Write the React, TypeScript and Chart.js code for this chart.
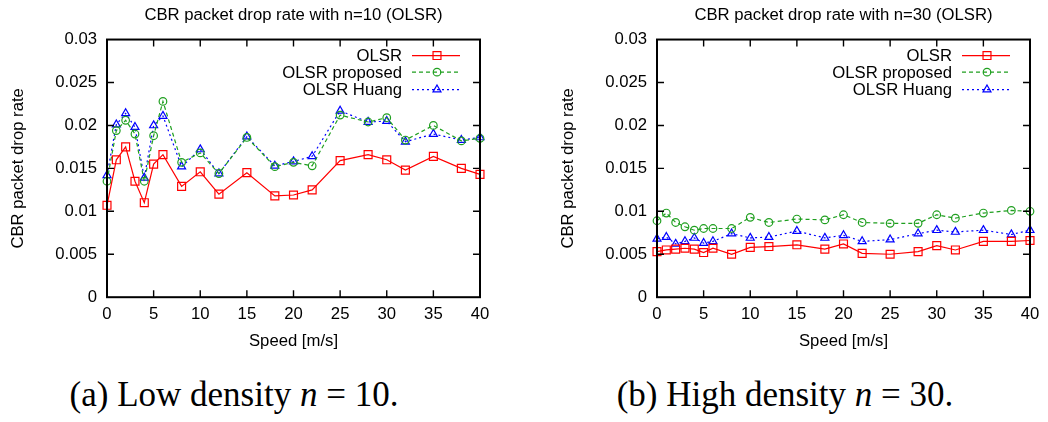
import React, { useEffect, useRef } from "react";
import { Chart, registerables } from "chart.js";

Chart.register(...registerables);

// ---------- data ----------
const speeds = [0, 1, 2, 3, 4, 5, 6, 8, 10, 12, 15, 18, 20, 22, 25, 28, 30, 32, 35, 38, 40];

const lowOlsr = [0.0107, 0.0160, 0.0175, 0.0135, 0.0110, 0.0155, 0.0166, 0.0129, 0.0146, 0.0120, 0.0145, 0.0118, 0.0119, 0.0125, 0.0159, 0.0166, 0.0160, 0.0148, 0.0164, 0.0150, 0.0143];
const lowProposed = [0.0135, 0.0194, 0.0206, 0.0190, 0.0135, 0.0188, 0.0228, 0.0157, 0.0168, 0.0144, 0.0186, 0.0152, 0.0157, 0.0153, 0.0212, 0.0204, 0.0209, 0.0183, 0.0200, 0.0182, 0.0185];
const lowHuang = [0.0142, 0.0201, 0.0214, 0.0198, 0.0139, 0.0200, 0.0211, 0.0152, 0.0172, 0.0144, 0.0187, 0.0153, 0.0158, 0.0164, 0.0217, 0.0204, 0.0205, 0.0181, 0.0190, 0.0183, 0.0186];

const highOlsr = [0.0053, 0.0055, 0.0056, 0.0057, 0.0056, 0.0052, 0.0057, 0.0050, 0.0058, 0.0059, 0.0061, 0.0056, 0.0062, 0.0051, 0.0050, 0.0053, 0.0060, 0.0055, 0.0065, 0.0065, 0.0066];
const highProposed = [0.0089, 0.0098, 0.0087, 0.0082, 0.0078, 0.0080, 0.0080, 0.0080, 0.0093, 0.0087, 0.0091, 0.0090, 0.0096, 0.0087, 0.0086, 0.0086, 0.0096, 0.0092, 0.0098, 0.0101, 0.0100];
const highHuang = [0.0068, 0.0070, 0.0062, 0.0065, 0.0069, 0.0063, 0.0065, 0.0074, 0.0069, 0.0070, 0.0077, 0.0069, 0.0072, 0.0065, 0.0067, 0.0074, 0.0078, 0.0076, 0.0078, 0.0073, 0.0078];

const seriesNames = ["OLSR", "OLSR proposed", "OLSR Huang"];
const xTicks = [0, 5, 10, 15, 20, 25, 30, 35, 40];
const yTicks = [0, 0.005, 0.01, 0.015, 0.02, 0.025, 0.03];
const yTickLabels = ["0", "0.005", "0.01", "0.015", "0.02", "0.025", "0.03"];

// ---------- styles ----------
const FONT = "'Liberation Sans', Arial, Helvetica, sans-serif";
const FS = 16.7;
const RED = "#ff0000";
const GREEN = "#1f9f1f";
const BLUE = "#0000ff";

const seriesStyle = [
  { color: RED, dash: [] as number[], point: "rect", radius: 5.6 },
  { color: GREEN, dash: [4, 3], point: "circle", radius: 3.8 },
  { color: BLUE, dash: [2, 3], point: "triangle", radius: 4.6 },
];

function drawMarker(ctx: CanvasRenderingContext2D, kind: string, x: number, y: number, r: number) {
  ctx.beginPath();
  if (kind === "rect") {
    const s = Math.SQRT1_2 * r;
    ctx.rect(x - s, y - s, 2 * s, 2 * s);
  } else if (kind === "circle") {
    ctx.arc(x, y, r, 0, Math.PI * 2);
  } else {
    const h = r * 1.5;
    const w = r * Math.sqrt(3) / 2;
    ctx.moveTo(x, y - r);
    ctx.lineTo(x + w, y - r + h);
    ctx.lineTo(x - w, y - r + h);
    ctx.closePath();
  }
  ctx.stroke();
}

const decorPlugin = {
  id: "decor",
  afterDraw(chart: any) {
    const { ctx, chartArea: a, scales } = chart;
    ctx.save();
    ctx.strokeStyle = "#000";
    ctx.lineWidth = 1.4;
    ctx.setLineDash([]);
    const tl = 7;
    xTicks.forEach((v) => {
      if (v <= 0 || v >= 40) return;
      const px = scales.x.getPixelForValue(v);
      ctx.beginPath();
      ctx.moveTo(px, a.bottom);
      ctx.lineTo(px, a.bottom - tl);
      ctx.moveTo(px, a.top);
      ctx.lineTo(px, a.top + tl);
      ctx.stroke();
    });
    yTicks.forEach((v) => {
      if (v <= 0 || v >= 0.03) return;
      const py = scales.y.getPixelForValue(v);
      ctx.beginPath();
      ctx.moveTo(a.left, py);
      ctx.lineTo(a.left + tl, py);
      ctx.moveTo(a.right, py);
      ctx.lineTo(a.right - tl, py);
      ctx.stroke();
    });
    ctx.lineWidth = 2;
    ctx.strokeRect(a.left, a.top, a.right - a.left, a.bottom - a.top);

    // legend
    ctx.font = `${FS}px ${FONT}`;
    ctx.textAlign = "right";
    ctx.textBaseline = "middle";
    const rows = [16, 32.6, 50];
    seriesNames.forEach((name, i) => {
      const y = a.top + rows[i];
      const st = seriesStyle[i];
      ctx.fillStyle = "#000";
      ctx.fillText(name, a.right - 78, y + 1);
      ctx.strokeStyle = st.color;
      ctx.lineWidth = 1.2;
      ctx.setLineDash(st.dash);
      ctx.beginPath();
      ctx.moveTo(a.right - 68, y);
      ctx.lineTo(a.right - 20, y);
      ctx.stroke();
      ctx.setLineDash([]);
      drawMarker(ctx, st.point, a.right - 43, y, st.radius);
    });
    ctx.restore();
  },
};

function ChartPanel({ title, data }: { title: string; data: number[][] }) {
  const ref = useRef<HTMLCanvasElement | null>(null);
  useEffect(() => {
    if (!ref.current) return;
    const font = { family: FONT, size: FS, weight: "normal" as const };
    const chart = new Chart(ref.current, {
      type: "line",
      data: {
        datasets: data.map((vals, i) => ({
          label: seriesNames[i],
          data: speeds.map((s, k) => ({ x: s, y: vals[k] })),
          borderColor: seriesStyle[i].color,
          borderWidth: 1.2,
          borderDash: seriesStyle[i].dash,
          pointStyle: seriesStyle[i].point as any,
          pointRadius: seriesStyle[i].radius,
          pointBorderWidth: 1.2,
          pointBorderColor: seriesStyle[i].color,
          pointBackgroundColor: "rgba(0,0,0,0)",
          tension: 0,
          fill: false,
          clip: false as any,
        })),
      },
      options: {
        responsive: false,
        animation: false,
        devicePixelRatio: 1,
        layout: { padding: { left: 0, right: 18, top: 0, bottom: 0 } },
        plugins: {
          legend: { display: false },
          tooltip: { enabled: false },
          title: {
            display: true,
            text: title,
            fullSize: false,
            color: "#000",
            font,
            padding: { top: 5, bottom: 14.5 },
          },
        },
        scales: {
          x: {
            type: "linear",
            min: 0,
            max: 40,
            afterBuildTicks: (s: any) => {
              s.ticks = xTicks.map((v) => ({ value: v }));
            },
            afterFit: (s: any) => {
              s.height = 62.8;
            },
            ticks: { color: "#000", font, padding: 7, maxRotation: 0, autoSkip: false },
            grid: { display: false, drawTicks: false },
            border: { display: false },
            title: { display: true, text: "Speed [m/s]", color: "#000", font, padding: { top: 0, bottom: 9 } },
          },
          y: {
            type: "linear",
            min: 0,
            max: 0.03,
            afterBuildTicks: (s: any) => {
              s.ticks = yTicks.map((v) => ({ value: v }));
            },
            afterFit: (s: any) => {
              s.width = 107;
            },
            ticks: {
              color: "#000",
              font,
              padding: 10,
              autoSkip: false,
              callback: (_v: any, idx: number) => yTickLabels[idx],
            },
            grid: { display: false, drawTicks: false },
            border: { display: false },
            title: { display: true, text: "CBR packet drop rate", color: "#000", font, padding: { top: 8.5, bottom: 0 } },
          },
        },
      },
      plugins: [decorPlugin],
    });
    return () => chart.destroy();
  }, []);
  return <canvas ref={ref} width={498} height={360} style={{ width: 498, height: 360, display: "block" }} />;
}

const captionStyle: React.CSSProperties = {
  position: "absolute",
  top: 376,
  width: 420,
  textAlign: "center",
  fontFamily: "'Liberation Serif', 'Times New Roman', serif",
  fontSize: 35,
  lineHeight: "38px",
  color: "#000",
  whiteSpace: "nowrap",
};

export default function App() {
  return (
    <div style={{ position: "fixed", left: 0, top: 0, width: 1048, height: 422, background: "#fff", overflow: "hidden" }}>
      <div style={{ position: "absolute", left: 0, top: 0 }}>
        <ChartPanel title="CBR packet drop rate with n=10 (OLSR)" data={[lowOlsr, lowProposed, lowHuang]} />
      </div>
      <div style={{ position: "absolute", left: 550, top: 0 }}>
        <ChartPanel title="CBR packet drop rate with n=30 (OLSR)" data={[highOlsr, highProposed, highHuang]} />
      </div>
      <div style={{ ...captionStyle, left: 234 - 210 }}>
        (a) Low density <i>n</i> = 10.
      </div>
      <div style={{ ...captionStyle, left: 785 - 210 }}>
        (b) High density <i>n</i> = 30.
      </div>
    </div>
  );
}
